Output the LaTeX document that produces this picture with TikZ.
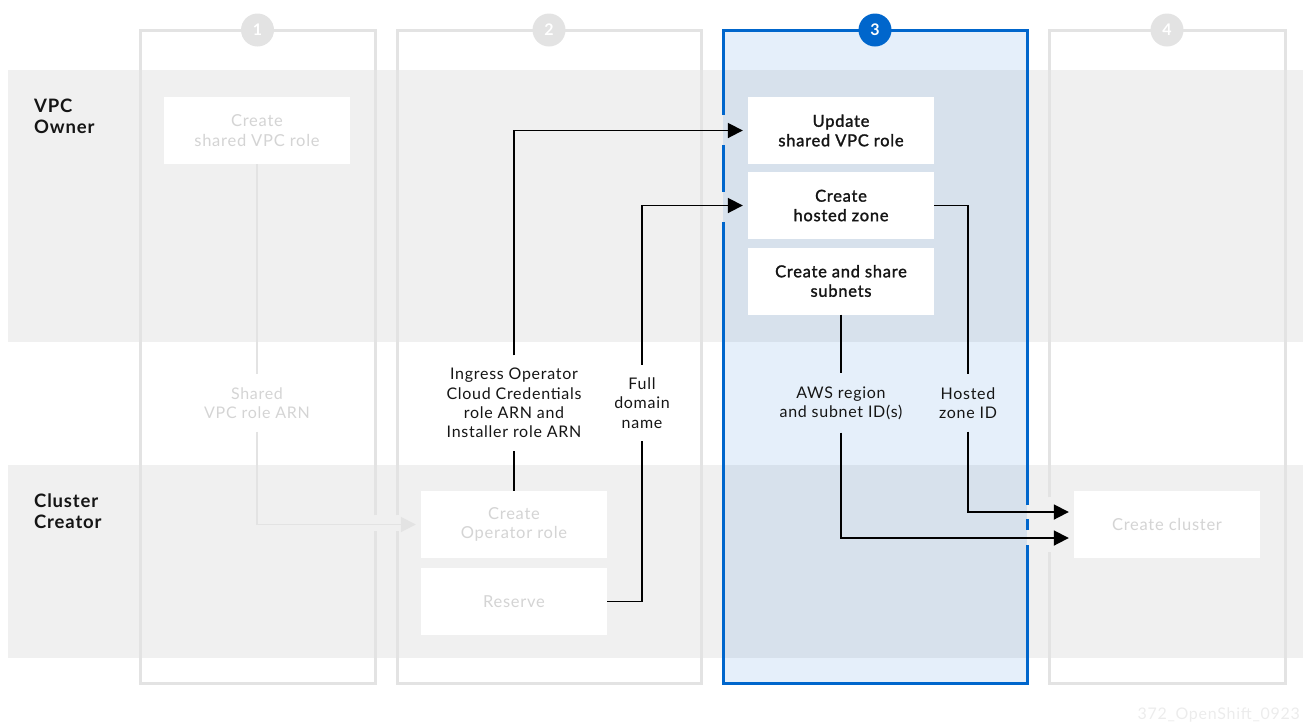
\documentclass[tikz,border=0pt]{standalone}
\usepackage{fontspec}
\setmainfont{Lato}[LetterSpace=4.5]
\newfontfamily\medfont{Lato}[FakeBold=1.6, LetterSpace=4.5]
\usetikzlibrary{arrows.meta}
\definecolor{bandgray}{HTML}{F0F0F0}
\definecolor{colgray}{HTML}{E3E3E3}
\definecolor{fadetxt}{HTML}{D4D4D4}
\definecolor{rhblue}{HTML}{0066CC}
\definecolor{inktxt}{HTML}{151515}
\tikzset{
  colline/.style={draw=colgray, line width=3pt},
  blueline/.style={draw=rhblue, line width=3pt},
  box/.style={fill=white, minimum width=186pt, minimum height=67pt, align=center, inner sep=0pt, font=\fontsize{16.5}{19.5}\selectfont},
  activebox/.style={box, text=inktxt, font=\medfont\fontsize{16.5}{19.5}\selectfont},
  fadebox/.style={box, text=fadetxt},
  lbl/.style={align=center, inner sep=0pt, outer sep=13pt, text=inktxt, font=\fontsize{16}{19.2}\selectfont},
  fadelbl/.style={lbl, text=fadetxt},
  flow/.style={draw=black, line width=1.8pt, -{Triangle[length=15pt,width=15pt]}},
  flowplain/.style={draw=black, line width=1.8pt},
  fadeflow/.style={draw=colgray, line width=1.8pt, -{Triangle[length=15pt,width=15pt]}},
  fadeflowplain/.style={draw=colgray, line width=1.8pt},
  rolelbl/.style={anchor=west, align=left, inner sep=0pt, text=inktxt, font=\bfseries\fontsize{18.5}{21}\selectfont},
  numcirc/.style={circle, minimum size=33pt, inner sep=0pt, text=white, font=\bfseries\fontsize{16}{16}\selectfont},
}
\begin{document}
\begin{tikzpicture}[x=1pt,y=-1pt]
\useasboundingbox (0,0) rectangle (1303,724);
% bands
\fill[bandgray] (8,70) rectangle (1303,342);
\fill[bandgray] (8,465) rectangle (1303,658);
% active column fill
\fill[rhblue, opacity=0.1] (723,30) rectangle (1027,683);
% column 1
\draw[colline] (375,515) -- (375,30) -- (140,30) -- (140,683) -- (375,683) -- (375,531);
% column 2
\draw[colline] (397,515) -- (397,30) -- (701,30) -- (701,683) -- (397,683) -- (397,531);
% column 4
\draw[colline] (1049,497) -- (1049,30) -- (1285,30) -- (1285,683) -- (1049,683) -- (1049,552);
% column 3
\draw[blueline] (723,115) -- (723,30) -- (1027,30) -- (1027,505);
\draw[blueline] (723,145) -- (723,192);
\draw[blueline] (1027,519) -- (1027,530);
\draw[blueline] (723,222) -- (723,683) -- (1027,683) -- (1027,545);
% step numbers
\node[numcirc, fill=colgray] (n1) at (257.5,30) {1};
\node[numcirc, fill=colgray] (n2) at (549,30) {2};
\node[numcirc, fill=rhblue] (n3) at (875,30) {3};
\node[numcirc, fill=colgray] (n4) at (1167,30) {4};
% role labels
\node[rolelbl] (vpc) at (34,116) {VPC\\Owner};
\node[rolelbl] (cc) at (34,511) {Cluster\\Creator};
% boxes
\node[fadebox] (svr) at (257,130.5) {Create\\shared VPC role};
\node[activebox] (upd) at (841,130.5) {Update\\shared VPC role};
\node[activebox] (hz) at (841,205.5) {Create\\hosted zone};
\node[activebox] (sub) at (841,281) {Create and share\\subnets};
\node[fadebox] (opr) at (514,524.5) {Create\\Operator role};
\node[fadebox] (res) at (514,601.5) {Reserve};
\node[fadebox] (cl) at (1167,524.5) {Create cluster};
% connector labels
\node[fadelbl] (lE) at (257,403) {Shared\\VPC role ARN};
\node[lbl] (lA) at (514,403) {Ingress Operator\\Cloud Credentials\\role ARN and\\Installer role ARN};
\node[lbl] (lB) at (642,403) {Full\\domain\\name};
\node[lbl] (lC) at (841,403) {AWS region\\and subnet ID(s)};
\node[lbl] (lD) at (968,403) {Hosted\\zone ID};
% faded connector
\draw[fadeflowplain] (svr.south) -- (lE.north);
\draw[fadeflow, shorten >=5pt] (lE.south) |- (opr.west);
% active connectors
\draw[flowplain] (opr.north) -- (lA.south);
\draw[flow, shorten >=5pt] (lA.north) |- (upd.west);
\draw[flowplain] (res.east) -| (lB.south);
\draw[flow, shorten >=5pt] (lB.north) |- (hz.west);
\draw[flowplain] (sub.south) -- (lC.north);
\draw[flow, shorten >=5pt] (lC.south) |- ([yshift=-13.5pt]cl.west);
\draw[flowplain] (hz.east) -| (lD.north);
\draw[flow, shorten >=5pt] (lD.south) |- ([yshift=12.5pt]cl.west);
% footer
\node[anchor=base east, inner sep=0pt, text=bandgray!70!colgray, font=\fontsize{16}{16}\selectfont] (foot) at (1300,719) {372\_OpenShift\_0923};
\end{tikzpicture}
\end{document}
